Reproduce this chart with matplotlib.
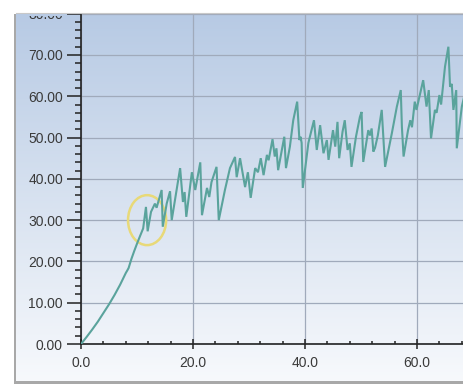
import numpy as np
import matplotlib
matplotlib.use("Agg")
import matplotlib.pyplot as plt
from matplotlib.patches import Rectangle, Ellipse
from matplotlib.ticker import MultipleLocator, FormatStrFormatter
from matplotlib.transforms import Bbox

# Measured series (x, y)
x_vals = [0.0, 1.0, 2.0, 3.0, 4.0, 5.0, 6.0, 7.0, 8.0, 8.3, 8.5, 9.0, 9.5,
          10.0, 10.5, 11.1, 11.6, 11.9, 12.5, 13.2, 13.5, 14.4, 14.6, 15.3, 15.9,
          16.2, 17.7, 18.2, 18.5, 18.8, 19.8, 20.4, 21.3, 21.6, 22.5, 22.9, 23.3,
          24.2, 24.6, 25.7, 26.6, 27.5, 27.8, 28.4, 29.3, 29.8, 30.3, 31.1, 31.6,
          32.1, 32.6, 33.2, 33.5, 34.2, 34.6, 34.9, 35.2, 36.3, 36.6, 37.3, 37.9,
          38.6, 39.0, 39.2, 39.4, 39.6, 40.6, 41.6, 42.1, 42.7, 43.3, 43.9, 44.2,
          45.0, 45.4, 45.8, 46.1, 46.7, 47.1, 47.6, 48.0, 48.3, 49.1, 49.8, 50.1,
          50.4, 51.3, 51.6, 51.9, 52.2, 52.5, 53.0, 53.7, 54.3, 55.5, 56.4, 57.1,
          57.3, 57.6, 58.4, 58.8, 59.1, 59.6, 59.9, 60.5, 61.1, 61.7, 62.1, 62.5,
          63.2, 63.5, 64.0, 64.3, 65.0, 65.6, 65.9, 66.2, 66.5, 67.0, 67.1, 68.0,
          68.6]
y_vals = [0.0, 1.7, 3.5, 5.4, 7.5, 9.6, 11.9, 14.4, 17.2, 17.9, 18.4, 20.6, 22.5,
          24.3, 26.0, 28.0, 33.2, 27.3, 32.0, 34.0, 33.0, 37.3, 28.4, 34.0, 37.0,
          30.0, 42.6, 34.4, 36.8, 30.8, 41.6, 37.3, 44.0, 31.2, 37.8, 35.6, 39.2,
          42.9, 30.0, 37.3, 42.6, 45.3, 40.4, 45.0, 38.0, 41.6, 35.4, 42.6, 41.6,
          45.0, 40.9, 45.8, 44.5, 49.6, 45.4, 47.4, 42.1, 50.2, 42.6, 47.8, 54.2,
          58.7, 49.4, 50.2, 48.7, 37.8, 48.7, 54.2, 47.0, 53.0, 46.2, 49.4, 44.6,
          51.8, 47.8, 53.8, 45.0, 51.4, 54.2, 47.0, 48.6, 42.9, 50.2, 55.0, 56.2,
          44.1, 51.8, 50.5, 52.2, 46.6, 47.5, 50.5, 56.7, 42.9, 51.0, 57.5, 61.5,
          52.6, 45.4, 51.8, 54.2, 52.5, 58.7, 56.7, 60.3, 63.9, 57.5, 61.5, 49.8,
          56.7, 56.0, 60.3, 58.0, 67.2, 72.0, 62.3, 63.0, 56.7, 61.5, 47.4, 57.5,
          61.0]

# Highlight marker around the early jump
mark_center = (11.8, 30.0)

W, H = 464, 385
fig = plt.figure(figsize=(W / 100, H / 100), dpi=100, facecolor="white")

def fx(px):
    return px / W

def fy(py):
    return 1 - py / H

# Panel shadow and gradient panel
fig.patches.append(Rectangle((fx(14), fy(384)), 1, fy(14) - fy(384),
                             transform=fig.transFigure, facecolor="#a8a8a8",
                             edgecolor="none", zorder=-3))
bg = fig.add_axes([fx(16), fy(381), 1 - fx(16), fy(13) - fy(381)], zorder=-2)
top = np.array([183, 202, 228]) / 255
bot = np.array([247, 249, 252]) / 255
t = np.linspace(0, 1, 256)[:, None]
grad = top[None, :] * (1 - t) + bot[None, :] * t
bg.imshow(grad[:, None, :], aspect="auto", extent=[0, 1, 0, 1])
bg.set_axis_off()

ax = fig.add_axes([fx(81), fy(344), 1 - fx(81), fy(13) - fy(344)])
ax.set_facecolor("none")
ax.set_xlim(0, 68.39)
ax.set_ylim(0, 80.17)

ax.plot(x_vals, y_vals, color="#5aa39c", lw=1.5, solid_joinstyle="miter", zorder=3)
ax.add_patch(Ellipse(mark_center, 6.8, 12.1, facecolor="none",
                     edgecolor="#e8d978", lw=1.8, zorder=2))

ax.xaxis.set_major_locator(MultipleLocator(20))
ax.xaxis.set_minor_locator(MultipleLocator(4))
ax.yaxis.set_major_locator(MultipleLocator(10))
ax.yaxis.set_minor_locator(MultipleLocator(2))
ax.xaxis.set_major_formatter(FormatStrFormatter("%.1f"))
ax.yaxis.set_major_formatter(FormatStrFormatter("%.2f"))

ax.grid(True, which="major", color="#a0aabb", lw=0.9)
for s in ("top", "right"):
    ax.spines[s].set_visible(False)
for s in ("left", "bottom"):
    ax.spines[s].set_color("#222222")
    ax.spines[s].set_linewidth(1.2)

ax.tick_params(axis="y", which="major", direction="out", length=10, width=1.1,
               color="#222222", pad=3)
ax.tick_params(axis="y", which="minor", direction="out", length=4.3, width=1.1,
               color="#222222")
ax.tick_params(axis="x", which="major", direction="inout", length=7, width=1.1,
               color="#222222", pad=5)
ax.tick_params(axis="x", which="minor", direction="in", length=2.5, width=1.1,
               color="#222222")
ax.tick_params(labelsize=10, labelcolor="#3a3a3a")
for lab in ax.get_xticklabels() + ax.get_yticklabels():
    lab.set_fontfamily("Liberation Sans")

# The panel's upper edge cuts off the topmost y label
fig.canvas.draw()
label_clip = Bbox.from_extents(0, 0, W, H - 16)
for tick in ax.yaxis.get_major_ticks():
    tick.label1.set_fontfamily("Liberation Sans")
    tick.label1.set_clip_box(label_clip)
    tick.label1.set_clip_on(True)

fig.patches.append(Rectangle((0, fy(13)), 1, 1 - fy(13), transform=fig.transFigure,
                             facecolor="white", edgecolor="none", zorder=100))
fig.lines.append(plt.Line2D([fx(16), 1], [fy(13), fy(13)], transform=fig.transFigure,
                            color="#c8c8c8", lw=0.8, zorder=101))

fig.savefig("out.png", dpi=100, facecolor="white")
